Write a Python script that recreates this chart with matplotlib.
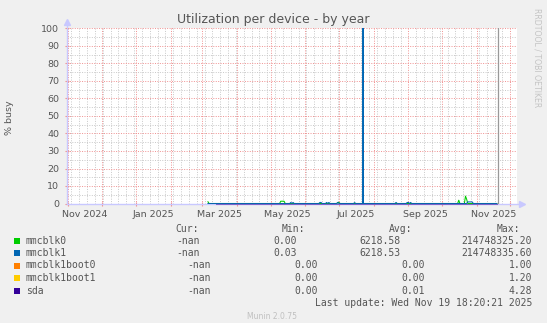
import numpy as np
import pandas as pd
import matplotlib
matplotlib.use('Agg')
import matplotlib.pyplot as plt
import matplotlib.dates as mdates
from matplotlib.lines import Line2D

W, H = 547, 323

title = 'Utilization per device - by year'
devices = ['mmcblk0', 'mmcblk1', 'mmcblk1boot0', 'mmcblk1boot1', 'sda']
colors = ['#00cc00', '#0066b3', '#ff8000', '#ffcc00', '#330099']
cur_vals = ['-nan', '-nan', '-nan', '-nan', '-nan']
min_vals = ['0.00', '0.03', '0.00', '0.00', '0.00']
avg_vals = ['6218.58', '6218.53', '0.00', '0.00', '0.01']
max_vals = ['214748325.20', '214748335.60', '1.00', '1.20', '4.28']
last_update = 'Last update: Wed Nov 19 18:20:21 2025'

view_start = '2024-10-31 03:00'
view_end = '2025-12-07'
data_start = '2025-03-06'
sda_start = '2025-03-13'
data_end = '2025-11-19 18:20'

# days with non-zero utilisation, everything else reads 0
mmcblk0_days = ['2025-03-06', '2025-05-10', '2025-05-11', '2025-05-12', '2025-05-13',
                '2025-06-30', '2025-07-01', '2025-10-16', '2025-10-22', '2025-10-23']
mmcblk0_vals = [1.0, 1.3, 1.3, 1.3, 1.3, 0.6, 0.6, 1.9, 4.2, 2.5]
mmcblk1_days = ['2025-05-19', '2025-05-21', '2025-06-14', '2025-06-15', '2025-06-20',
                '2025-06-22', '2025-06-30', '2025-07-15', '2025-08-21',
                '2025-08-31', '2025-09-01', '2025-09-03', '2025-10-24', '2025-10-25',
                '2025-10-26', '2025-10-27', '2025-10-28']
mmcblk1_vals = [0.6, 0.6, 0.6, 0.6, 0.6, 0.6, 0.6, 0.5, 0.6,
                0.6, 0.6, 0.6, 0.9, 0.9, 0.9, 0.9, 0.9]
# the bogus counter-wrap sample (far off the scale), only a few hours long
mmcblk1_spike_time = '2025-07-22 12:00'
mmcblk1_spike_val = 214748335.6

x_labels = ['Nov 2024', 'Jan 2025', 'Mar 2025', 'May 2025', 'Jul 2025', 'Sep 2025', 'Nov 2025']
label_months = ['2024-11-01', '2025-01-01', '2025-03-01', '2025-05-01', '2025-07-01',
                '2025-09-01', '2025-11-01']


def build(start, days, vals, spike=None, spike_val=0.0):
    idx = pd.date_range(start, data_end, freq='D')
    s = pd.Series(0.0, index=idx)
    for d, v in zip(days, vals):
        s[pd.Timestamp(d)] = v
    if spike is not None:
        t = pd.Timestamp(spike)
        extra = pd.Series([0.0, spike_val, 0.0],
                          index=[t - pd.Timedelta(hours=2), t, t + pd.Timedelta(hours=2)])
        s = pd.concat([s, extra]).sort_index()
    return s


series = [
    build(data_start, mmcblk0_days, mmcblk0_vals),
    build(data_start, mmcblk1_days, mmcblk1_vals, mmcblk1_spike_time, mmcblk1_spike_val),
    build(data_start, [], []),
    build(data_start, [], []),
    build(sda_start, [], []),
]

bg = '#f0f0f0'
txt = '#555555'
fig = plt.figure(figsize=(W / 100, H / 100), dpi=100, facecolor=bg)
ax = fig.add_axes([67 / W, 1 - 203.5 / H, 450 / W, 175 / H])
ax.set_facecolor('white')

for s, c in zip(series[:4], colors[:4]):
    ax.plot(s.index, s.values, color=c, lw=0.75, solid_joinstyle='round')

ax.axvline(pd.Timestamp(data_end), color='#999999', lw=0.9)

ax.set_xlim(pd.Timestamp(view_start), pd.Timestamp(view_end))
ax.set_ylim(0, 100)

# grid
ax.xaxis.set_major_locator(mdates.MonthLocator())
ax.xaxis.set_minor_locator(mdates.WeekdayLocator(byweekday=mdates.MO))
ax.xaxis.set_major_formatter(plt.NullFormatter())
ax.set_yticks(np.arange(0, 101, 10))
ax.set_yticks(np.arange(5, 100, 10), minor=True)
ax.grid(which='minor', color='#c8c8c8', linestyle=(0, (1, 1.5)), lw=0.7)
ax.grid(which='major', color='#f09090', linestyle=(0, (1, 1.5)), lw=0.7)
ax.set_axisbelow(True)

ax.tick_params(axis='both', which='both', length=0)
ax.tick_params(axis='x', which='major', length=3, direction='inout', color='#f09090')
ax.tick_params(axis='y', which='major', length=3, direction='inout', color='#f09090',
               labelsize=6.8, labelcolor=txt, pad=4)

for lab, m in zip(x_labels, label_months):
    xm = pd.Timestamp(m) + pd.Timedelta(days=15)
    ax.text(xm, -6.5, lab, ha='center', va='center', fontsize=6.8, color=txt,
            transform=ax.transData, clip_on=False)

for sp in ax.spines.values():
    sp.set_visible(False)
axc = '#c8c8ff'
ax.add_line(Line2D([0, 1.012], [0, 0], transform=ax.transAxes, color=axc, lw=1, clip_on=False, zorder=1))
ax.add_line(Line2D([0, 0], [0, 1.03], transform=ax.transAxes, color=axc, lw=1, clip_on=False, zorder=1))
ax.plot([1.012], [0], marker='>', ms=4, color=axc, transform=ax.transAxes, clip_on=False)
ax.plot([0], [1.035], marker='^', ms=4, color=axc, transform=ax.transAxes, clip_on=False)
# sda sits on the zero line, drawn last and over the axis
ax.plot(series[4].index, series[4].values, color=colors[4], lw=0.75, alpha=0.5, zorder=3, clip_on=False)

fig.text(273 / W, 1 - 19 / H, title, ha='center', va='center', fontsize=9, color=txt)
fig.text(9 / W, 1 - 118 / H, '% busy', rotation=90, ha='center', va='center', fontsize=6.8, color=txt)
fig.text(537 / W, 1 - 58 / H, 'RRDTOOL / TOBI OETIKER', rotation=270, ha='center', va='center',
         fontsize=5.6, color='#c4c4c4')

mono = 'DejaVu Sans Mono'
fs = 7
hy = 229
fig.text(199 / W, 1 - hy / H, 'Cur:', ha='right', va='center', family=mono, fontsize=fs, color=txt)
fig.text(305 / W, 1 - hy / H, 'Min:', ha='right', va='center', family=mono, fontsize=fs, color=txt)
fig.text(412 / W, 1 - hy / H, 'Avg:', ha='right', va='center', family=mono, fontsize=fs, color=txt)
fig.text(520 / W, 1 - hy / H, 'Max:', ha='right', va='center', family=mono, fontsize=fs, color=txt)

row_y = [240.5, 253, 265.5, 278, 290.5]
for i, name in enumerate(devices):
    y = 1 - row_y[i] / H
    fig.patches.append(plt.Rectangle((14 / W, y - 3 / H), 6 / W, 6 / H, transform=fig.transFigure,
                                     facecolor=colors[i], edgecolor='none'))
    fig.text(26 / W, y, name, ha='left', va='center', family=mono, fontsize=fs, color=txt)
    if i < 2:
        cx, mx, ax_ = 200, 297, 400
    else:
        cx, mx, ax_ = 211, 318, 425
    fig.text(cx / W, y, cur_vals[i], ha='right', va='center', family=mono, fontsize=fs, color=txt)
    fig.text(mx / W, y, min_vals[i], ha='right', va='center', family=mono, fontsize=fs, color=txt)
    fig.text(ax_ / W, y, avg_vals[i], ha='right', va='center', family=mono, fontsize=fs, color=txt)
    fig.text(532 / W, y, max_vals[i], ha='right', va='center', family=mono, fontsize=fs, color=txt)

fig.text(532 / W, 1 - 303 / H, last_update, ha='right', va='center', family=mono, fontsize=fs, color=txt)
fig.text(272 / W, 1 - 316.5 / H, 'Munin 2.0.75', ha='center', va='center', fontsize=5.5, color='#c0c0c0')

fig.savefig('out.png', dpi=100, facecolor=bg)
